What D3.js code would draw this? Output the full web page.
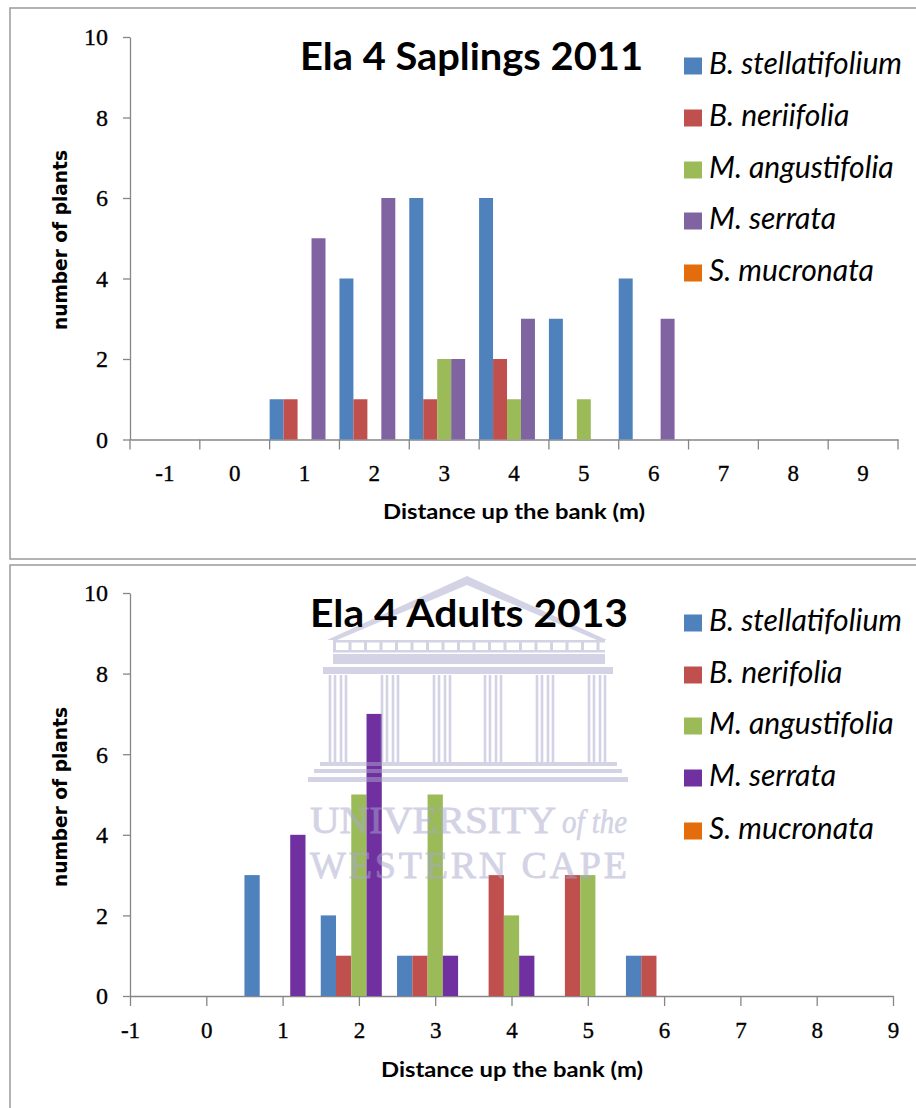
<!DOCTYPE html>
<html>
<head>
<meta charset="utf-8">
<script src="https://cdn.jsdelivr.net/npm/d3@7"></script>
<style>
  html, body { margin: 0; padding: 0; background: #ffffff; }
  svg { display: block; }
</style>
</head>
<body>
<svg id="fig" width="916" height="1108"></svg>
<script>
// Distance classes along the bank (m)
const distances = [-1, 0, 1, 2, 3, 4, 5, 6, 7, 8, 9];
const yTicks = [0, 2, 4, 6, 8, 10];

// Saplings 2011: counts per distance class
const species2011 = ["B. stellatifolium", "B. neriifolia", "M. angustifolia", "M. serrata", "S. mucronata"];
const bStellatifolium2011 = [0, 0, 1, 4, 6, 6, 3, 4, 0, 0, 0];
const bNeriifolia2011     = [0, 0, 1, 1, 1, 2, 0, 0, 0, 0, 0];
const mAngustifolia2011   = [0, 0, 0, 0, 2, 1, 1, 0, 0, 0, 0];
const mSerrata2011        = [0, 0, 5, 6, 2, 3, 0, 3, 0, 0, 0];
const sMucronata2011      = [0, 0, 0, 0, 0, 0, 0, 0, 0, 0, 0];

// Adults 2013: counts per distance class
const species2013 = ["B. stellatifolium", "B. nerifolia", "M. angustifolia", "M. serrata", "S. mucronata"];
const bStellatifolium2013 = [0, 0, 3, 2, 1, 0, 0, 1, 0, 0, 0];
const bNerifolia2013      = [0, 0, 0, 1, 1, 3, 3, 1, 0, 0, 0];
const mAngustifolia2013   = [0, 0, 0, 5, 5, 2, 3, 0, 0, 0, 0];
const mSerrata2013        = [0, 0, 4, 7, 1, 1, 0, 0, 0, 0, 0];
const sMucronata2013      = [0, 0, 0, 0, 0, 0, 0, 0, 0, 0, 0];

const colors2011 = ["#4F81BD", "#C0504D", "#9BBB59", "#8064A2", "#E46C0A"];
const colors2013 = ["#4F81BD", "#C0504D", "#9BBB59", "#7030A0", "#E46C0A"];

const AXIS = "#868686";
const svg = d3.select("#fig");
svg.append("rect").attr("width", 916).attr("height", 1108).attr("fill", "#fff");

function styleAxis(g) {
  g.select(".domain").attr("stroke", AXIS).attr("stroke-width", 1.3);
  g.selectAll(".tick line").attr("stroke", AXIS).attr("stroke-width", 1.3);
  g.selectAll("text").attr("fill", "#000")
    .attr("font-family", "'Liberation Serif', 'DejaVu Serif', serif")
    .attr("font-size", 23)
    .attr("stroke", "#000").attr("stroke-width", 0.35);
}

function drawChart(opt) {
  const g = svg.append("g");

  // frame
  g.append("rect")
    .attr("x", opt.frame[0]).attr("y", opt.frame[1])
    .attr("width", opt.frame[2]).attr("height", opt.frame[3])
    .attr("fill", "#fff").attr("stroke", "#a0a0a0").attr("stroke-width", 1.6);

  const y = d3.scaleLinear().domain([0, 10]).range([opt.y0, opt.y10]);
  const series = opt.species.map((name, i) => ({ name, values: opt.values[i], color: opt.colors[i] }));
  const fmt = d => String(d);

  let groupLeft, slot;
  if (opt.mode === "band") {
    const x = d3.scaleBand().domain(distances).range([opt.x0, opt.x1]).paddingInner(0).paddingOuter(0);
    slot = d3.scaleBand().domain(opt.species).range([0, x.bandwidth()]);
    groupLeft = d => x(d);
    // labels centred in each class, tick marks on class boundaries
    const ax = g.append("g").attr("transform", `translate(0,${opt.y0})`)
      .call(d3.axisBottom(x).tickFormat(fmt).tickSize(0).tickSizeOuter(0));
    styleAxis(ax);
    ax.selectAll("text").attr("y", opt.labelBase).attr("dy", 0);
    const edges = distances.map(d => x(d)).concat([x.range()[1]]);
    ax.selectAll("line.edge").data(edges).join("line").attr("class", "edge")
      .attr("x1", d => d).attr("x2", d => d).attr("y1", 0).attr("y2", 10)
      .attr("stroke", AXIS).attr("stroke-width", 1.3);
  } else {
    const x = d3.scaleLinear().domain([-1, 9]).range([opt.x0, opt.x1]);
    const w = x(1) - x(0);
    slot = d3.scaleBand().domain(opt.species).range([0, w]);
    groupLeft = d => x(d) - w / 2;
    const ax = g.append("g").attr("transform", `translate(0,${opt.y0})`)
      .call(d3.axisBottom(x).tickValues(distances).tickFormat(fmt).tickSize(10).tickSizeOuter(0));
    styleAxis(ax);
    ax.selectAll("text").attr("y", opt.labelBase).attr("dy", 0);
  }

  // y axis
  const ay = g.append("g").attr("transform", `translate(${opt.x0},0)`)
    .call(d3.axisLeft(y).tickValues(yTicks).tickSize(7).tickPadding(15).tickSizeOuter(0));
  styleAxis(ay);
  ay.selectAll("text").attr("font-size", 24).attr("dy", "0.33em");

  // bars
  const bars = g.append("g");
  series.forEach(s => {
    bars.selectAll(null).data(distances.map((d, i) => ({ d, v: s.values[i] })))
      .join("rect")
      .attr("x", p => groupLeft(p.d) + slot(s.name))
      .attr("width", slot.bandwidth())
      .attr("y", p => y(p.v))
      .attr("height", p => y(0) - y(p.v))
      .attr("fill", s.color);
  });

  if (opt.watermark) opt.watermark(g);

  // title
  g.append("text").text(opt.title)
    .attr("x", opt.titleX).attr("y", opt.titleY)
    .attr("font-family", "Lato, 'Open Sans', sans-serif").attr("font-weight", 700)
    .attr("font-size", 38).attr("fill", "#000")
    .attr("textLength", opt.titleW).attr("lengthAdjust", "spacingAndGlyphs");

  // axis titles
  g.append("text").text("Distance up the bank (m)")
    .attr("x", opt.xTitleX).attr("y", opt.xTitleY)
    .attr("font-family", "Lato, 'Open Sans', sans-serif").attr("font-weight", 700)
    .attr("font-size", 20.5).attr("fill", "#000")
    .attr("textLength", 262).attr("lengthAdjust", "spacingAndGlyphs");

  g.append("text").text("number of plants")
    .attr("transform", `translate(67,${opt.yTitleC}) rotate(-90)`)
    .attr("text-anchor", "middle")
    .attr("font-family", "'DejaVu Sans', sans-serif").attr("font-weight", 700)
    .attr("font-size", 19.5).attr("fill", "#000")
    .attr("textLength", 180).attr("lengthAdjust", "spacingAndGlyphs");

  // legend
  const lg = g.append("g");
  const items = lg.selectAll("g").data(series).join("g")
    .attr("transform", (d, i) => `translate(684,${opt.legendY[i]})`);
  items.append("rect").attr("x", 0).attr("y", -8.5).attr("width", 18).attr("height", 17)
    .attr("fill", d => d.color);
  const texts = items.append("text").text(d => d.name)
    .attr("x", 25).attr("y", 7.5)
    .attr("font-family", "Lato, 'Open Sans', sans-serif").attr("font-style", "italic")
    .attr("font-size", 22).attr("fill", "#000");
  const first = texts.node().getComputedTextLength();
  const fs = 22 * 193 / first;
  texts.attr("font-size", fs);
}

// faint university crest behind the lower chart
function crest(g) {
  const wm = g.append("g").attr("fill", "#A8A8CC").attr("opacity", 0.5);
  // pediment
  wm.append("path").attr("d", "M327,640 L467,576 L607,640 L597,640 L467,585 L337,640 Z");
  // frieze with openings
  wm.append("rect").attr("x", 333).attr("y", 640).attr("width", 272).attr("height", 2.5);
  wm.append("rect").attr("x", 333).attr("y", 650).attr("width", 272).attr("height", 2.5);
  d3.range(0, 18).forEach(i => {
    wm.append("rect").attr("x", 333 + i * 15.5).attr("y", 640).attr("width", 3).attr("height", 12);
  });
  // architrave and capitals
  wm.append("rect").attr("x", 333).attr("y", 654).attr("width", 272).attr("height", 10);
  wm.append("rect").attr("x", 323).attr("y", 667).attr("width", 290).attr("height", 7);
  // fluted columns
  [338, 390, 442, 493, 545, 597].forEach(cx => {
    [-8, -3, 3, 8].forEach(o => {
      wm.append("rect").attr("x", cx + o - 1.3).attr("y", 675).attr("width", 2.6).attr("height", 87);
    });
  });
  // steps
  wm.append("rect").attr("x", 320).attr("y", 762).attr("width", 297).attr("height", 4);
  wm.append("rect").attr("x", 314).attr("y", 769).attr("width", 308).attr("height", 4);
  wm.append("rect").attr("x", 308).attr("y", 777).attr("width", 320).attr("height", 5);
  // lettering
  const tf = "'Liberation Serif', 'DejaVu Serif', serif";
  wm.append("text").text("UNIVERSITY").attr("x", 310).attr("y", 833)
    .attr("font-family", tf).attr("font-size", 38)
    .attr("stroke", "#A8A8CC").attr("stroke-width", 0.8)
    .attr("textLength", 246).attr("lengthAdjust", "spacingAndGlyphs");
  wm.append("text").text("of the").attr("x", 562).attr("y", 833)
    .attr("font-family", tf).attr("font-style", "italic").attr("font-size", 34)
    .attr("stroke", "#A8A8CC").attr("stroke-width", 0.6)
    .attr("textLength", 65).attr("lengthAdjust", "spacingAndGlyphs");
  wm.append("text").text("WESTERN CAPE").attr("x", 310).attr("y", 878)
    .attr("font-family", tf).attr("font-size", 38)
    .attr("stroke", "#A8A8CC").attr("stroke-width", 0.8)
    .attr("textLength", 317).attr("lengthAdjust", "spacing");
}

drawChart({
  frame: [10, 8, 920, 551],
  mode: "band", x0: 130, x1: 898, y0: 439.5, y10: 37, labelBase: 41,
  species: species2011,
  values: [bStellatifolium2011, bNeriifolia2011, mAngustifolia2011, mSerrata2011, sMucronata2011],
  colors: colors2011,
  title: "Ela 4 Saplings 2011", titleX: 300, titleY: 69.5, titleW: 343,
  xTitleX: 383, xTitleY: 519, yTitleC: 240,
  legendY: [66, 118, 170, 221, 273]
});

drawChart({
  frame: [10, 565, 920, 560],
  mode: "linear", x0: 130, x1: 893, y0: 996, y10: 593, labelBase: 42,
  species: species2013,
  values: [bStellatifolium2013, bNerifolia2013, mAngustifolia2013, mSerrata2013, sMucronata2013],
  colors: colors2013,
  title: "Ela 4 Adults 2013", titleX: 310, titleY: 626.5, titleW: 318,
  xTitleX: 381, xTitleY: 1077, yTitleC: 797,
  legendY: [623, 675, 726, 778, 831],
  watermark: crest
});
</script>
</body>
</html>
